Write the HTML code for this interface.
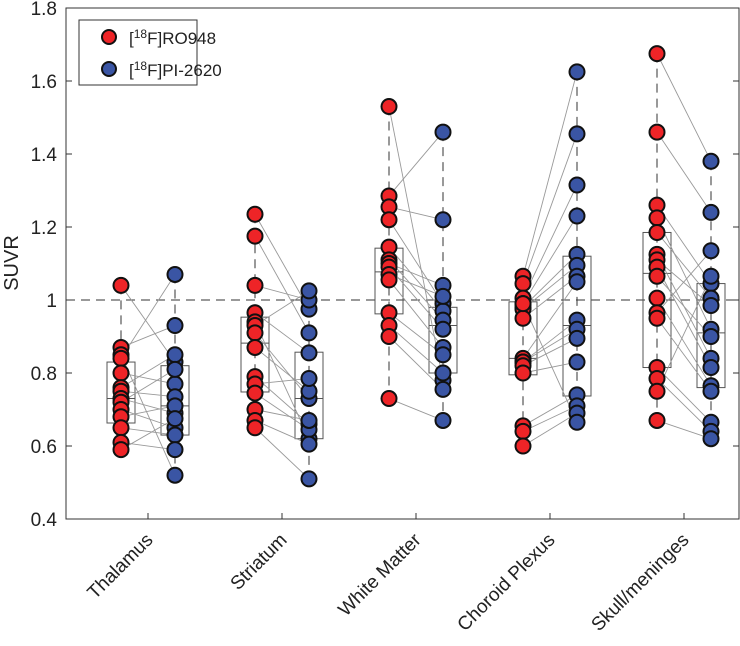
<!DOCTYPE html>
<html><head><meta charset="utf-8"><style>
body{margin:0;background:#fff;}
svg{display:block;font-family:"Liberation Sans","DejaVu Sans",sans-serif;}
</style></head><body>
<svg id="chart" width="740" height="646"></svg>
<script>
const categories=["Thalamus","Striatum","White Matter","Choroid Plexus","Skull/meninges"];
const redValues=[
[1.04,0.87,0.85,0.84,0.80,0.76,0.75,0.73,0.72,0.70,0.68,0.65,0.61,0.59],
[1.235,1.175,1.04,0.965,0.94,0.93,0.91,0.87,0.79,0.77,0.745,0.70,0.67,0.65],
[1.53,1.285,1.255,1.22,1.145,1.11,1.10,1.09,1.07,1.055,0.965,0.93,0.90,0.73],
[1.065,1.045,1.005,0.99,0.98,0.975,0.95,0.84,0.83,0.83,0.82,0.80,0.655,0.64,0.60,0.99],
[1.675,1.46,1.26,1.225,1.185,1.125,1.11,1.09,1.065,1.005,0.965,0.95,0.815,0.785,0.75,0.67]];
const blueValues=[
[0.83,0.93,0.52,1.07,0.77,0.85,0.735,0.69,0.81,0.65,0.71,0.63,0.59,0.675],
[0.975,0.91,1.0,0.855,0.62,1.025,0.73,0.75,0.66,0.785,0.645,0.67,0.605,0.51],
[0.78,1.46,1.22,0.99,0.97,0.945,1.04,0.92,1.01,0.87,0.85,0.80,0.755,0.67],
[1.625,1.455,1.315,1.23,1.125,1.095,1.065,1.05,0.945,0.92,0.895,0.83,0.74,0.71,0.69,0.665],
[1.38,1.24,1.045,0.92,1.005,0.84,0.985,0.815,0.90,0.765,1.135,0.75,0.665,0.64,1.065,0.62]];
const redBox=[[0.663,0.73,0.83],[0.748,0.882,0.953],[0.962,1.077,1.142],[0.795,0.84,0.995],[0.815,1.073,1.185]];
const blueBox=[[0.63,0.71,0.82],[0.62,0.73,0.857],[0.80,0.93,0.98],[0.737,0.93,1.12],[0.76,0.91,1.045]];
const yTicks=[0.4,0.6,0.8,1,1.2,1.4,1.6,1.8];
const yTickLabels=["0.4","0.6","0.8","1","1.2","1.4","1.6","1.8"];

const NS="http://www.w3.org/2000/svg";
const svg=document.getElementById('chart');
const L=66,R=739,T=8,B=519;
function y(v){return B-(v-0.4)/1.4*(B-T);}
function xc(i){return 148+i*134;}
function mk(tag,attrs,parent){const e=document.createElementNS(NS,tag);for(const k in attrs)e.setAttribute(k,attrs[k]);(parent||svg).appendChild(e);return e;}

let ref=mk('line',{x1:L,x2:R,y1:y(1),y2:y(1),stroke:'#333','stroke-width':1,'stroke-dasharray':'9,6'});



categories.forEach((c,i)=>{
  const g=mk('g',{});
  
  
  const xr=xc(i)-27,xb=xc(i)+27;
  [[redValues[i],redBox[i],xr],[blueValues[i],blueBox[i],xb]].forEach(([vals,bx,x])=>{
    const mn=Math.min(...vals),mx=Math.max(...vals);
    const w=mk('line',{x1:x,x2:x,y1:y(mx),y2:y(mn),stroke:'#333','stroke-width':1,'stroke-dasharray':'9,6'},g);
    
    
    const b=mk('rect',{x:x-14,y:y(bx[2]),width:28,height:y(bx[0])-y(bx[2]),fill:'none',stroke:'#555','stroke-width':1},g);
    
    
    const m=mk('line',{x1:x-14,x2:x+14,y1:y(bx[1]),y2:y(bx[1]),stroke:'#555','stroke-width':1},g);
    
    
  });
  const n=Math.min(redValues[i].length,blueValues[i].length);
  for(let k=0;k<n;k++){
    const p=mk('line',{x1:xr,y1:y(redValues[i][k]),x2:xb,y2:y(blueValues[i][k]),stroke:'#999','stroke-width':0.9},g);
    
    
  }
  redValues[i].forEach(v=>{
    const d=mk('circle',{cx:xr,cy:y(v),r:7.5,fill:'#ee2427',stroke:'#111','stroke-width':2},g);
    
    
  });
  blueValues[i].forEach(v=>{
    const d=mk('circle',{cx:xb,cy:y(v),r:7.5,fill:'#3a55a4',stroke:'#111','stroke-width':2},g);
    
    
  });
  const t=mk('line',{x1:xc(i),x2:xc(i),y1:B,y2:B-6,stroke:'#333'});
  
  
  const lb=mk('text',{x:xc(i)+6,y:B+22,'text-anchor':'end','font-size':19,fill:'#222',transform:`rotate(-45 ${xc(i)+6} ${B+22})`});
  lb.textContent=c;
  
  
});

const fr=mk('rect',{x:L,y:T,width:R-L,height:B-T,fill:'none',stroke:'#333','stroke-width':1});


yTicks.forEach((v,k)=>{
  const t=mk('line',{x1:L,x2:L+6,y1:y(v),y2:y(v),stroke:'#333'});
  
  
  const t2=mk('line',{x1:R,x2:R-6,y1:y(v),y2:y(v),stroke:'#333'});
  
  
  const lb=mk('text',{x:L-9,y:y(v)+7,'text-anchor':'end','font-size':19,fill:'#222'});
  lb.textContent=yTickLabels[k];
  
  
});
const yt=mk('text',{x:18,y:263,'text-anchor':'middle','font-size':20,fill:'#222',transform:'rotate(-90 18 263)'});
yt.textContent='SUVR';


</script>
<svg style="position:absolute;left:0;top:0" width="740" height="646">
<rect x="79" y="20" width="118" height="65" fill="#fff" stroke="#333"/>
<g>
<circle cx="109" cy="37" r="7" fill="#ee2427" stroke="#111" stroke-width="2"/>
<text x="129" y="44" font-size="17" fill="#222" font-family="Liberation Sans, sans-serif">[<tspan font-size="12" dy="-6">18</tspan><tspan dy="6">F]RO948</tspan></text>
</g>
<g>
<circle cx="109" cy="69" r="7" fill="#3a55a4" stroke="#111" stroke-width="2"/>
<text x="129" y="76" font-size="17" fill="#222" font-family="Liberation Sans, sans-serif">[<tspan font-size="12" dy="-6">18</tspan><tspan dy="6">F]PI-2620</tspan></text>
</g>
</svg>
</body></html>
